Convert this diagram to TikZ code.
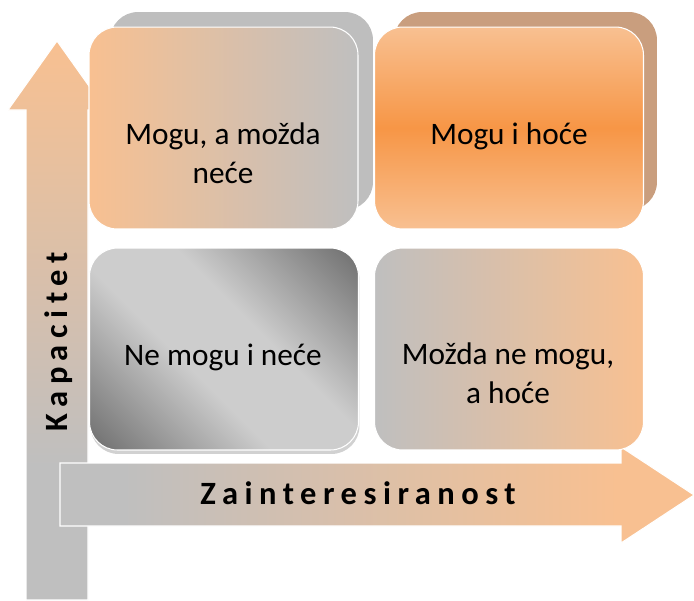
\documentclass[tikz,border=0pt]{standalone}
\usepackage{fontspec}
\setmainfont{Carlito}
\newfontfamily\axisfont[LetterSpace=20]{Carlito}
\definecolor{peach}{RGB}{248,192,145}
\definecolor{deeporange}{RGB}{247,150,70}
\definecolor{axisgray}{RGB}{191,191,191}
\definecolor{shadowgray}{RGB}{190,190,190}
\definecolor{shadowbrown}{RGB}{201,158,126}
\definecolor{slate}{RGB}{100,100,100}
\definecolor{silver}{RGB}{205,205,205}

\pgfdeclareverticalshading{kapshade}{100bp}{color(0bp)=(axisgray); color(37bp)=(axisgray); color(75bp)=(peach); color(100bp)=(peach)}
\pgfdeclarehorizontalshading{zainshade}{100bp}{color(0bp)=(axisgray); color(30bp)=(axisgray); color(69bp)=(peach); color(100bp)=(peach)}
\pgfdeclareverticalshading{steelshade}{100bp}{color(0bp)=(slate); color(12bp)=(slate); color(42bp)=(silver); color(58bp)=(silver); color(88bp)=(slate); color(100bp)=(slate)}

\begin{document}
\begin{tikzpicture}[x=0.02cm, y=-0.02cm,
  quad/.style={rounded corners=0.56cm, minimum width=5.38cm,
    minimum height=4.04cm, draw=white, line width=0.6pt, inner sep=0pt},
  shadowquad/.style={rounded corners=0.56cm, minimum width=5.26cm,
    minimum height=3.96cm, inner sep=0pt},
  qtext/.style={font=\fontsize{17.8}{22.2}\selectfont, align=center, anchor=base},
  axislbl/.style={font=\axisfont\bfseries\fontsize{18.5}{20}\selectfont, anchor=base},
  arrowshape/.style={draw=white, line width=0.6pt}
]
  \useasboundingbox (0,0) rectangle (694,600);

  % axes
  \shadedraw[arrowshape, shading=kapshade]
    (26,600) -- (26,110) -- (8,110) -- (57,41) -- (106,110) -- (88,110) -- (88,600) -- cycle;
  \shadedraw[arrowshape, shading=zainshade]
    (60,463) -- (621,463) -- (621,447) -- (694,495) -- (621,543) -- (621,526) -- (60,526) -- cycle;

  % shadows
  \node[shadowquad, fill=shadowgray]  (tlshadow) at (241.5,111) {};
  \node[shadowquad, fill=shadowbrown] (trshadow) at (525.5,111) {};
  \node[quad, draw=none, fill=black!18] (blshadow) at (225,353) {};

  % quadrants
  \node[quad, left color=peach, right color=axisgray] (tl) at (223.5,128) {};
  \node[quad, top color=peach, bottom color=peach, middle color=deeporange] (tr) at (509,128) {};
  \node[quad, shading=steelshade, shading angle=-45] (bl) at (224,349) {};
  \node[quad, left color=axisgray, right color=peach] (br) at (509,349) {};

  \node[qtext] (tltext) at (223,183) {Mogu, a možda\\neće};
  \node[qtext] (trtext) at (509,144) {Mogu i hoće};
  \node[qtext] (bltext) at (223,365) {Ne mogu i neće};
  \node[qtext] (brtext) at (508,403) {Možda ne mogu,\\a hoće};

  \node[axislbl, rotate=90] (kap)  at (68,342) {Kapacitet};
  \node[axislbl]            (zain) at (358,504) {Zainteresiranost};
\end{tikzpicture}
\end{document}
